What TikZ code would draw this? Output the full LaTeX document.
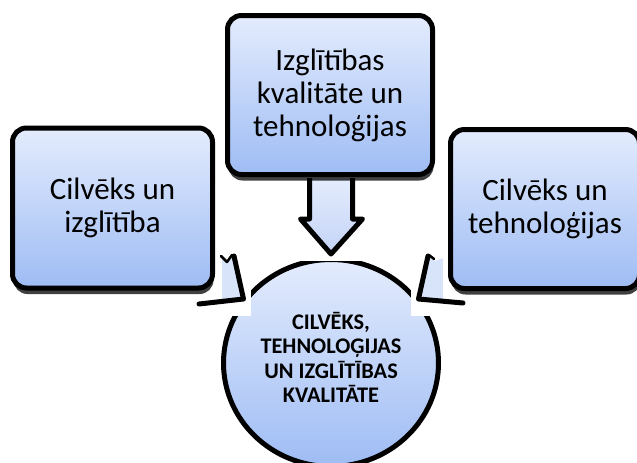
\documentclass[tikz,border=0pt]{standalone}
\usepackage{fontspec}
\setmainfont{Carlito}
\usetikzlibrary{shapes.geometric,shadows}
\definecolor{boxtop}{RGB}{228,236,253}
\definecolor{boxbot}{RGB}{158,188,244}
\definecolor{arrtop}{RGB}{228,236,252}
\definecolor{arrbot}{RGB}{196,212,248}
\definecolor{arrfill}{RGB}{216,228,250}
\tikzset{
  boxnode/.style={rectangle, rounded corners=14pt, draw=black, line width=5pt,
    top color=boxtop, bottom color=boxbot, align=center, inner sep=0pt,
    font=\fontsize{31}{33}\selectfont,
    drop shadow={shadow xshift=1pt, shadow yshift=-6pt, fill=black, opacity=0.75}},
  hubnode/.style={ellipse, draw=black, line width=5pt, top color=boxtop,
    bottom color=boxbot, inner sep=0pt},
  hubtext/.style={align=center, inner sep=0pt,
    font=\bfseries\fontsize{22.3}{24.5}\selectfont},
  blockarrow/.style={draw=black, line width=5pt, line join=round,
    top color=arrtop, bottom color=arrbot},
  whitepatch/.style={fill=white, draw=none},
  armfill/.style={fill=arrfill, draw=none},
  armline/.style={draw=black, line width=5pt, line join=round, line cap=round},
  armnotch/.style={draw=black, line width=2.5pt, line join=round, line cap=round},
}
\begin{document}
\begin{tikzpicture}[x=1pt,y=-1pt]
\useasboundingbox (0,0) rectangle (637,463);
\clip (0,0) rectangle (637,463);
% hub
\node[hubnode, minimum width=215pt, minimum height=207pt] (hub) at (331,363) {};
\node[hubtext] (hublabel) at (331,357.5)
  {CILVĒKS,\\TEHNOLOĢIJAS\\UN IZGLĪTĪBAS\\KVALITĀTE};
% white patches of the arrow pictures
\fill[whitepatch] (292,182) rectangle (370,261);
\fill[whitepatch] (220,254) rectangle (251,316);
\fill[whitepatch] (411,254) rectangle (442,316);
% down arrow
\path[blockarrow] (309.5,178) -- (309.5,219) -- (300.5,219) -- (331,254)
  -- (362.5,219) -- (352.5,219) -- (352.5,178);
% left bent arrow (clipped)
\fill[armfill] (222,258) -- (227,262) -- (233,256) -- (243,299) -- (222,301) -- cycle;
\draw[armnotch] (221,256) -- (227,262) -- (232,255);
\draw[armline] (234,256) -- (243.5,299) -- (199,304);
% right bent arrow (clipped)
\fill[armfill] (443,258) -- (435,261) -- (429,256) -- (419,299) -- (443,301) -- cycle;
\draw[armnotch] (429,255) -- (434,259);
\draw[armline] (428,256) -- (418.5,299) -- (463,303);
% boxes
\node[boxnode, minimum width=205pt, minimum height=159pt] (topbox) at (330,95)
  {Izglītības\\kvalitāte un\\tehnoloģijas};
\node[boxnode, minimum width=200pt, minimum height=160pt] (leftbox) at (112.5,208)
  {Cilvēks un\\izglītība};
\node[boxnode, minimum width=189pt, minimum height=159pt] (rightbox) at (545,209)
  {Cilvēks un\\tehnoloģijas};
\end{tikzpicture}
\end{document}
